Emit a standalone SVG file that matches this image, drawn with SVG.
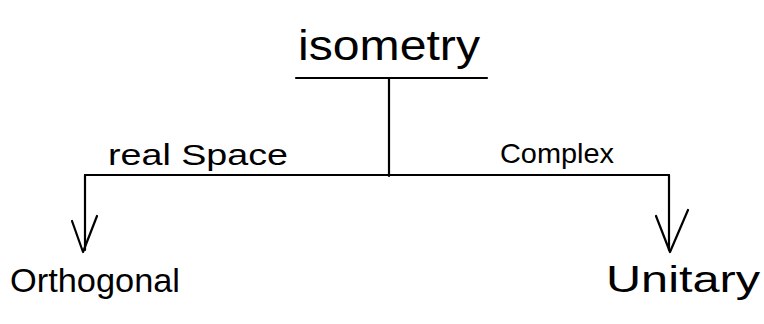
<svg xmlns="http://www.w3.org/2000/svg" width="764" height="324" viewBox="0 0 764 324">
<style>
.ln{stroke:#000;stroke-width:2.2;fill:none;stroke-linecap:round;stroke-linejoin:round}
.t{font-family:"Liberation Sans","Noto Sans",sans-serif;fill:#000}
</style>
<rect width="764" height="324" fill="#fff"/>
<g id="connectors">
<line class="ln" x1="296" y1="78" x2="487" y2="78"/>
<line class="ln" x1="389" y1="78" x2="389" y2="176"/>
<line class="ln" x1="85" y1="175" x2="669" y2="175"/>
<line class="ln" x1="85" y1="175" x2="85" y2="250"/>
<polyline class="ln" points="72,221 83,252 97,216"/>
<line class="ln" x1="669" y1="175" x2="669" y2="250"/>
<polyline class="ln" points="656,216 670,252 688,210"/>
<text class="t" x="108" y="165" font-size="30" textLength="180" lengthAdjust="spacingAndGlyphs">real Space</text>
<text class="t" x="500" y="163" font-size="28" textLength="114" lengthAdjust="spacingAndGlyphs">Complex</text>
</g>
<g id="isometry"><text class="t" x="298" y="60" font-size="42" textLength="182" lengthAdjust="spacingAndGlyphs">isometry</text></g>
<g id="orthogonal"><text class="t" x="10" y="292" font-size="34" textLength="170" lengthAdjust="spacingAndGlyphs">Orthogonal</text></g>
<g id="unitary"><text class="t" x="606" y="292" font-size="36" textLength="154" lengthAdjust="spacingAndGlyphs">Unitary</text></g>
</svg>
